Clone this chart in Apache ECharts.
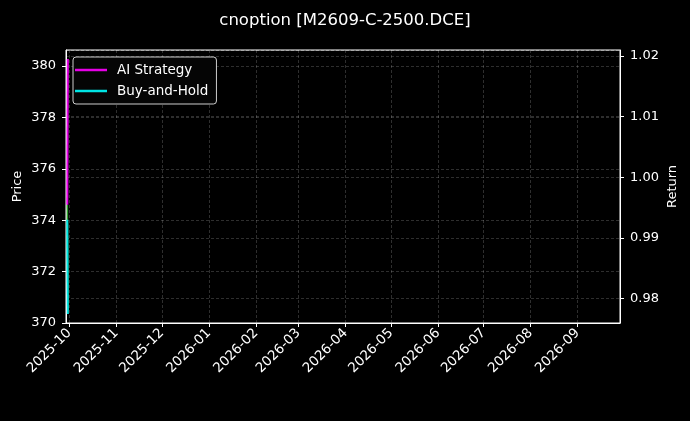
<!DOCTYPE html>
<html>
<head>
<meta charset="utf-8">
<script src="https://cdn.jsdelivr.net/npm/echarts@6/dist/echarts.min.js"></script>
<style>
  html, body { margin: 0; padding: 0; background: #000; }
  #chart { width: 690px; height: 421px; }
</style>
</head>
<body>
<div id="chart"></div>
<script>
// data
const dates = ['2025-09-29T16:00', '2025-09-30T00:00'];
const price = [374.6, 370.5];
const aiStrategy = [0.9955, 1.0195];
const buyHold = [0.993, 0.9775];

const xStart = '2025-09-28T19:00';
const xEnd = '2026-09-28T22:00';

const chart = echarts.init(document.getElementById('chart'));
const font = 'DejaVu Sans';
const gridLine = { show: true, lineStyle: { color: 'rgba(255,255,255,0.3)', type: [3, 2], width: 0.6 } };

chart.setOption({
  animation: false,
  backgroundColor: '#000',
  textStyle: { fontFamily: font, color: '#fff' },
  title: {
    text: 'cnoption [M2609-C-2500.DCE]',
    left: 'center', top: 7,
    textStyle: { color: '#fff', fontSize: 16.5, fontWeight: 'normal', fontFamily: font }
  },
  legend: {
    data: ['AI Strategy', 'Buy-and-Hold'],
    orient: 'vertical',
    left: 73, top: 57,
    icon: 'rect', itemWidth: 32, itemHeight: 2.5, itemGap: 7,
    padding: [6, 8, 6, 2],
    backgroundColor: '#050505',
    borderColor: 'rgba(255,255,255,0.8)', borderWidth: 1, borderRadius: 3,
    textStyle: { color: '#fff', fontSize: 13.5, fontFamily: font, padding: [0, 0, 0, 5] }
  },
  grid: {
    left: 66, right: 70, top: 50, bottom: 98,
    outerBoundsMode: 'none',
    show: true, borderColor: '#fff', borderWidth: 1, backgroundColor: '#000'
  },
  xAxis: {
    type: 'time',
    min: xStart, max: xEnd,
    splitNumber: 12,
    axisLine: { lineStyle: { color: '#fff' } },
    axisTick: { show: true, length: 4, lineStyle: { color: '#fff' } },
    axisLabel: {
      color: '#fff', fontSize: 13.5, rotate: 45, margin: 8,
      formatter: '{yyyy}-{MM}', showMinLabel: false, showMaxLabel: false, hideOverlap: false
    },
    splitLine: gridLine
  },
  yAxis: [
    {
      type: 'value', position: 'left',
      min: 370, max: 380.62, interval: 2,
      name: 'Price', nameLocation: 'middle', nameGap: 42, nameRotate: 90, nameMoveOverlap: false,
      nameTextStyle: { color: '#fff', fontSize: 13 },
      axisLine: { show: true, lineStyle: { color: '#fff' } },
      axisTick: { show: true, length: 4, lineStyle: { color: '#fff' } },
      axisLabel: { color: '#fff', fontSize: 13, margin: 10, showMaxLabel: false },
      splitLine: gridLine
    },
    {
      type: 'value', position: 'right',
      min: 0.976, max: 1.021, splitNumber: 5,
      name: 'Return', nameLocation: 'middle', nameGap: 46, nameRotate: 90, nameMoveOverlap: false,
      nameTextStyle: { color: '#fff', fontSize: 13 },
      axisLine: { show: true, lineStyle: { color: '#fff' } },
      axisTick: { show: true, length: 4, lineStyle: { color: '#fff' } },
      axisLabel: {
        color: '#fff', fontSize: 13, margin: 10,
        showMinLabel: false, showMaxLabel: false,
        formatter: v => v.toFixed(2)
      },
      splitLine: gridLine
    }
  ],
  series: [
    {
      name: 'Price', type: 'line', yAxisIndex: 0, showSymbol: false,
      data: dates.map((d, i) => [d, price[i]]),
      lineStyle: { color: '#2ca02c', width: 1.5 }, itemStyle: { color: '#2ca02c' }
    },
    {
      name: 'AI Strategy', type: 'line', yAxisIndex: 1, showSymbol: false,
      data: dates.map((d, i) => [d, aiStrategy[i]]),
      lineStyle: { color: '#e600e6', width: 2 }, itemStyle: { color: '#e600e6' }
    },
    {
      name: 'Buy-and-Hold', type: 'line', yAxisIndex: 1, showSymbol: false,
      data: dates.map((d, i) => [d, buyHold[i]]),
      lineStyle: { color: '#00e5e5', width: 2 }, itemStyle: { color: '#00e5e5' }
    }
  ]
});
</script>
</body>
</html>
